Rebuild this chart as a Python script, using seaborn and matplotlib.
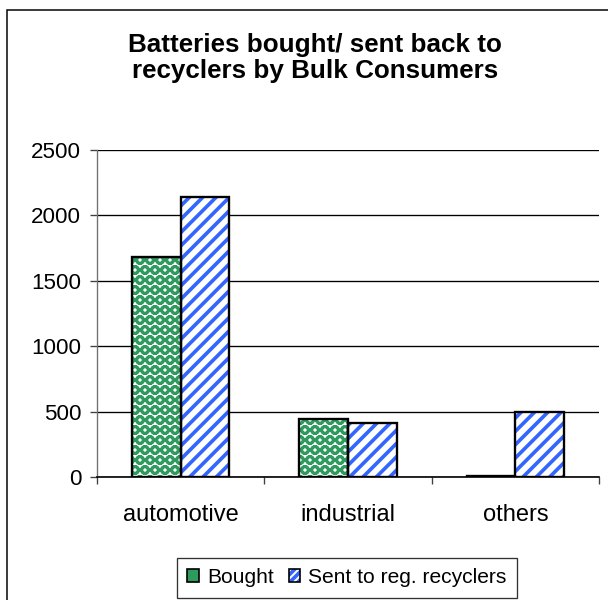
import matplotlib
matplotlib.use("Agg")
import matplotlib.pyplot as plt
from matplotlib.patches import Rectangle, Patch
import numpy as np
import pandas as pd
import seaborn as sns

categories = ["automotive", "industrial", "others"]
bought = [1680, 440, 10]
sent = [2140, 410, 500]
series_names = ["Bought", "Sent to reg. recyclers"]
yticks = [0, 500, 1000, 1500, 2000, 2500]
title = "Batteries bought/ sent back to\nrecyclers by Bulk Consumers"

GREEN = "#2E9A5E"
BLUE = "#3366FF"

df = pd.DataFrame({
    "category": categories * 2,
    "value": bought + sent,
    "series": [series_names[0]] * len(categories) + [series_names[1]] * len(categories),
})

sns.set_theme(style="white")
plt.rcParams["font.family"] = ["Liberation Sans", "DejaVu Sans"]
plt.rcParams["text.color"] = "black"
plt.rcParams["xtick.color"] = "black"
plt.rcParams["ytick.color"] = "black"
plt.rcParams["hatch.linewidth"] = 2.2

DPI = 120
fig = plt.figure(figsize=(608 / DPI, 600 / DPI), dpi=DPI)
ax = fig.add_axes([97 / 608, 1 - 477 / 600, (599 - 97) / 608, (477 - 150) / 600])

sns.barplot(data=df, x="category", y="value", hue="series",
            palette=["white", "white"], width=0.58, gap=0,
            saturation=1, legend=False, ax=ax, err_kws={"linewidth": 0})

# patterned fills: hatch colour follows the edge colour, so outlines go on a separate layer
styles = [("OO", GREEN, 1.7), ("///", BLUE, 2.2)]
for container, (hatch, hcolor, hlw) in zip(ax.containers, styles):
    for bar in container:
        bar.set_facecolor("white")
        bar.set_edgecolor(hcolor)
        bar.set_hatch(hatch)
        if hasattr(bar, "set_hatch_linewidth"):
            bar.set_hatch_linewidth(hlw)
        bar.set_linewidth(0)
        ax.add_patch(Rectangle(bar.get_xy(), bar.get_width(), bar.get_height(),
                               fill=False, edgecolor="black", linewidth=1.4, zorder=3))

ax.set_xlim(-0.5, 2.5)
ax.set_ylim(0, 2500)
ax.set_yticks(yticks)
ax.set_yticklabels([str(v) for v in yticks], fontsize=13.4)
ax.set_xlabel("")
ax.set_ylabel("")
ax.set_xticks(range(len(categories)))
ax.set_xticklabels(categories, fontsize=14.2)
ax.set_xticks(np.arange(-0.5, len(categories), 1.0), minor=True)
ax.tick_params(axis="x", which="major", length=0, pad=16)
ax.tick_params(axis="x", which="minor", length=4, width=0.8, color="#404040", direction="out", bottom=True)
ax.tick_params(axis="y", which="major", length=4, width=0.8, color="#404040", direction="out", left=True, pad=5.5)

ax.yaxis.grid(True, color="black", linewidth=0.8)
ax.set_axisbelow(True)
for side in ("top", "right"):
    ax.spines[side].set_visible(False)
ax.spines["left"].set_color("#707070")
ax.spines["left"].set_linewidth(0.8)
ax.spines["bottom"].set_color("black")
ax.spines["bottom"].set_linewidth(1.0)
ax.spines["bottom"].set_zorder(4)

fig.text(315 / 608, 1 - 58 / 600, title, ha="center", va="center",
         fontsize=15.6, fontweight="bold", linespacing=1.15)

# chart-area frame
fig.patches.append(Rectangle((7 / 608, -0.1), 1.2, 1.1 - 10 / 600,
                             transform=fig.transFigure, fill=False,
                             edgecolor="black", linewidth=0.9))

handles = [
    (Patch(facecolor=GREEN, linewidth=0),
     Patch(fill=False, edgecolor="black", linewidth=1.0)),
    (Patch(facecolor="white", edgecolor=BLUE, hatch="/////", linewidth=0),
     Patch(fill=False, edgecolor="black", linewidth=1.0)),
]
leg = fig.legend(handles, series_names, loc="center",
                 bbox_to_anchor=(347 / 608, 1 - 577.5 / 600), ncol=2,
                 fontsize=12.6, frameon=True, fancybox=False,
                 handlelength=0.55, handleheight=0.55, handletextpad=0.4,
                 columnspacing=0.7, borderpad=0.5, borderaxespad=0)
leg.get_frame().set_edgecolor("black")
leg.get_frame().set_linewidth(0.8)

fig.savefig("out.png", dpi=DPI, facecolor="white")
